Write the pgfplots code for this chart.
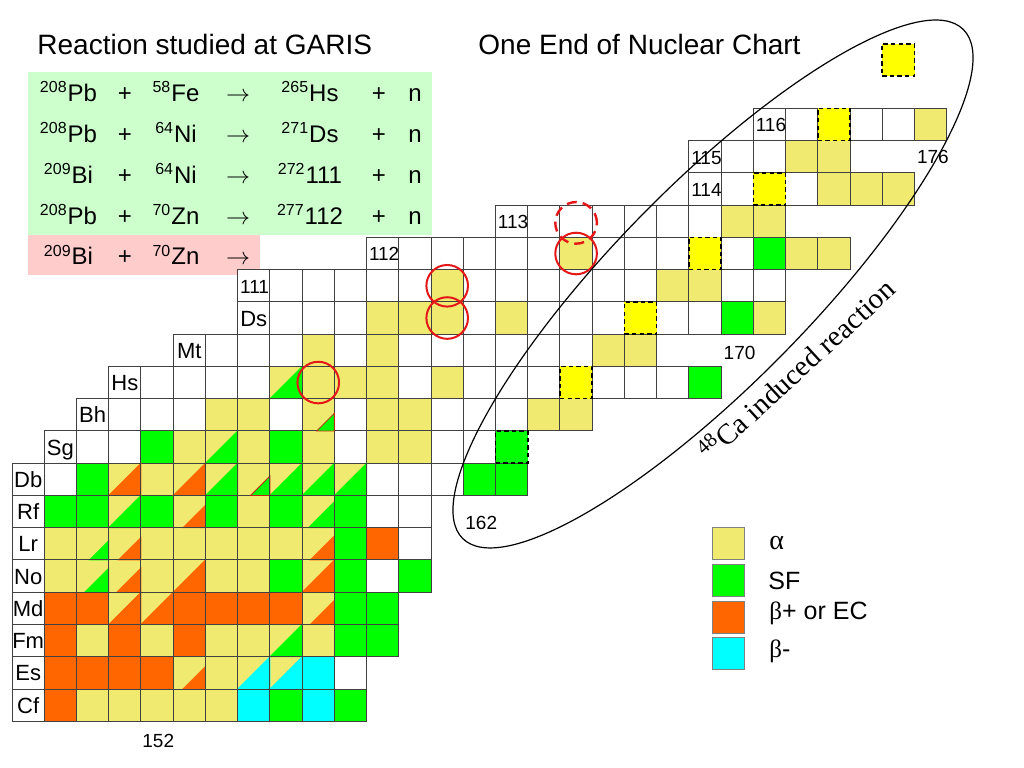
\documentclass[border=0pt]{standalone}
\usepackage{fontspec}
\setmainfont{Liberation Sans}
\newfontfamily\serif{Liberation Serif}
\usepackage{pgfplots}
\usepackage{pgfplotstable}
\pgfplotsset{compat=1.18}

\definecolor{alphaY}{RGB}{241,234,112}
\definecolor{sfG}{RGB}{0,255,0}
\definecolor{ecO}{RGB}{255,102,0}
\definecolor{bmC}{RGB}{0,255,255}
\definecolor{newY}{RGB}{255,255,0}
\definecolor{gridc}{RGB}{65,65,65}
\definecolor{bgG}{RGB}{204,255,204}
\definecolor{bgP}{RGB}{255,204,204}
\definecolor{circR}{RGB}{228,24,24}
\definecolor{triR}{RGB}{190,40,20}

\pgfdeclareplotmark{lrtri}{%
  \pgfpathmoveto{\pgfqpoint{0pt}{0pt}}%
  \pgfpathlineto{\pgfqpoint{-\pgfplotmarksize}{0pt}}%
  \pgfpathlineto{\pgfqpoint{0pt}{\pgfplotmarksize}}%
  \pgfpathclose
  \pgfusepathqfillstroke}

\newcommand\iso[2]{\textsuperscript{#1}#2}
\newcommand\fs[1]{\fontsize{#1}{#1}\selectfont}

% white cells (including the cells that carry element / Z labels)
\pgfplotstableread{
N Z
148 98
148 99
148 100
148 101
148 102
148 103
148 104
148 105
149 106
150 107
151 108
153 109
155 110
155 111
159 112
163 113
169 114
169 115
171 116
158 99
159 102
160 103
159 104
160 104
149 105
159 105
160 105
161 105
150 106
151 106
158 106
161 106
162 106
151 107
152 107
153 107
156 107
158 107
161 107
162 107
163 107
152 108
153 108
154 108
155 108
160 108
162 108
163 108
164 108
166 108
167 108
168 108
154 109
155 109
156 109
158 109
160 109
161 109
162 109
163 109
164 109
165 109
156 110
157 110
158 110
162 110
164 110
165 110
166 110
168 110
169 110
156 111
157 111
158 111
159 111
160 111
162 111
163 111
164 111
165 111
166 111
167 111
170 111
171 111
160 112
161 112
162 112
163 112
164 112
166 112
167 112
168 112
170 112
164 113
165 113
166 113
167 113
168 113
169 113
170 114
172 114
170 115
171 115
172 116
174 116
175 116
}\Wcells

% alpha (full cells)
\pgfplotstableread{
N Z
150 98
151 98
152 98
153 98
154 98
154 99
150 100
152 100
154 100
155 100
157 100
149 102
152 102
154 102
155 102
149 103
152 103
153 103
154 103
155 103
156 103
155 104
152 105
153 106
155 106
157 106
159 106
160 106
154 107
155 107
159 107
160 107
164 107
165 107
157 108
158 108
159 108
161 108
157 109
159 109
166 109
167 109
159 110
160 110
161 110
163 110
171 110
161 111
168 111
169 111
165 112
172 112
173 112
170 113
171 113
173 114
174 114
175 114
172 115
173 115
176 116
}\Ycells

% SF (full cells)
\pgfplotstableread{
N Z
156 98
158 98
158 100
159 100
158 101
159 101
156 102
158 102
160 102
158 103
149 104
150 104
152 104
154 104
156 104
158 104
150 105
162 105
163 105
152 106
156 106
169 108
170 110
171 112
}\Gcells

% beta+ / EC (full cells)
\pgfplotstableread{
N Z
149 98
149 99
150 99
151 99
152 99
149 100
151 100
153 100
149 101
150 101
153 101
154 101
155 101
156 101
159 103
}\Ocells

% beta- (full cells)
\pgfplotstableread{
N Z
155 98
157 98
157 99
}\Ccells

% new alpha emitters (dashed) and new SF (dashed)
\pgfplotstableread{
N Z
165 108
167 110
169 112
171 114
173 116
175 118
}\DYcells
\pgfplotstableread{
N Z
163 106
}\DGcells

% alpha cells with a second branch (lower right triangle, f = leg / side)
\pgfplotstableread{
N Z f
151 105 1
153 105 1
153 104 0.7
151 103 0.7
157 103 0.75
151 102 0.75
153 102 1
157 102 1
151 101 1
152 101 1
157 101 0.75
153 99 0.7
}\Otri
\pgfplotstableread{
N Z f
156 108 1
154 106 1
154 105 1
156 105 1
157 105 1
158 105 1
151 104 1
157 104 0.8
150 103 0.6
150 102 0.75
156 100 1
}\Gtri
\pgfplotstableread{
N Z f
157 107 0.55
155 105 0.6
}\Rtri
\pgfplotstableread{
N Z f
155 99 1
156 99 1
}\Ctri

\pgfplotsset{
  cell/.style={only marks, mark=square*, mark size=8.06pt,
    mark options={solid, line width=0.5pt, draw=gridc, fill=#1}},
  edge/.style={only marks, mark=square, mark size=8.06pt,
    mark options={solid, line width=0.5pt, draw=gridc}},
  tri/.style={scatter, only marks, mark=lrtri,
    scatter/use mapped color={draw=#1, fill=#1},
    visualization depends on={16.12*\thisrow{f} \as \tsz},
    scatter/@pre marker code/.append style={/tikz/mark size=\tsz pt, /tikz/line width=0.1pt}},
}

\begin{document}
\begin{tikzpicture}
\begin{axis}[
  scale only axis, width=512pt, height=384pt,
  xmin=147.6255, xmax=179.397, ymin=96.5524, ymax=120.359,
  hide axis, clip=false,
]
\path (rel axis cs:0,0) rectangle (rel axis cs:1,1);
\coordinate (O) at (rel axis cs:0,0);
% reaction table backgrounds
\fill[bgG] (axis cs:148.504,113.074) rectangle (axis cs:161.020,118.118);
\fill[bgP] (axis cs:148.504,111.835) rectangle (axis cs:155.693,113.074);

\addplot[cell=white] table[x expr=\thisrow{N}+0.5, y expr=\thisrow{Z}+0.5] {\Wcells};
\addplot[cell=alphaY] table[x expr=\thisrow{N}+0.5, y expr=\thisrow{Z}+0.5] {\Ycells};
\addplot[cell=alphaY] table[x expr=\thisrow{N}+0.5, y expr=\thisrow{Z}+0.5] {\Otri};
\addplot[cell=alphaY] table[x expr=\thisrow{N}+0.5, y expr=\thisrow{Z}+0.5] {\Gtri};
\addplot[cell=alphaY] table[x expr=\thisrow{N}+0.5, y expr=\thisrow{Z}+0.5] {\Rtri};
\addplot[cell=alphaY] table[x expr=\thisrow{N}+0.5, y expr=\thisrow{Z}+0.5] {\Ctri};
\addplot[cell=sfG] table[x expr=\thisrow{N}+0.5, y expr=\thisrow{Z}+0.5] {\Gcells};
\addplot[cell=ecO] table[x expr=\thisrow{N}+0.5, y expr=\thisrow{Z}+0.5] {\Ocells};
\addplot[cell=bmC] table[x expr=\thisrow{N}+0.5, y expr=\thisrow{Z}+0.5] {\Ccells};

\addplot[tri=ecO] table[x expr=\thisrow{N}+1, y=Z] {\Otri};
\addplot[tri=sfG] table[x expr=\thisrow{N}+1, y=Z] {\Gtri};
\addplot[tri=bmC] table[x expr=\thisrow{N}+1, y=Z] {\Ctri};
\addplot[scatter, only marks, mark=lrtri,
    scatter/use mapped color={draw=triR, fill=sfG},
    visualization depends on={16.12*\thisrow{f} \as \tsz},
    scatter/@pre marker code/.append style={/tikz/mark size=\tsz pt, /tikz/line width=0.7pt}]
    table[x expr=\thisrow{N}+1, y=Z] {\Rtri};

\addplot[edge] table[x expr=\thisrow{N}+0.5, y expr=\thisrow{Z}+0.5] {\Otri};
\addplot[edge] table[x expr=\thisrow{N}+0.5, y expr=\thisrow{Z}+0.5] {\Gtri};
\addplot[edge] table[x expr=\thisrow{N}+0.5, y expr=\thisrow{Z}+0.5] {\Ctri};

\addplot[only marks, mark=square*, mark size=8.06pt,
   mark options={line width=0.8pt, draw=black, fill=newY, dash pattern=on 2.2pt off 1.6pt}]
   table[x expr=\thisrow{N}+0.5, y expr=\thisrow{Z}+0.5] {\DYcells};
\addplot[only marks, mark=square*, mark size=8.06pt,
   mark options={line width=0.8pt, draw=black, fill=sfG, dash pattern=on 2.2pt off 1.6pt}]
   table[x expr=\thisrow{N}+0.5, y expr=\thisrow{Z}+0.5] {\DGcells};

% circles: isotopes produced at GARIS
\addplot[only marks, mark=o, mark size=10.4pt, mark options={solid, draw=circR, line width=1pt}]
  coordinates {(157.5,108.5) (161.5,111.5) (161.5,110.5) (165.5,112.5)};
\addplot[only marks, mark=o, mark size=10.4pt, mark options={draw=circR, line width=1.2pt, dash pattern=on 5pt off 3pt}]
  coordinates {(165.5,113.45)};
\end{axis}

\begin{scope}[shift={(O)}, x=0.5pt, y=0.5pt]
% element labels
\begin{scope}[every node/.style={anchor=base, inner sep=0pt, font=\fs{11}}]
\node at (28.19,54.77) {Cf};
\node at (28.19,87.03) {Es};
\node at (28.19,119.29) {Fm};
\node at (28.19,151.55) {Md};
\node at (28.19,183.81) {No};
\node at (28.19,216.07) {Lr};
\node at (28.19,248.33) {Rf};
\node at (28.19,280.59) {Db};
\node at (60.42,312.85) {Sg};
\node at (92.65,345.11) {Bh};
\node at (124.88,377.37) {Hs};
\node at (189.34,409.63) {Mt};
\node at (253.8,441.89) {Ds};
\end{scope}
\begin{scope}[every node/.style={anchor=base west, inner sep=0pt, font=\fs{9.5}}]
\node at (239.7,474.8) {111};
\node at (368.6,507.05) {112};
\node at (497.5,539.3) {113};
\node at (690.9,571.6) {114};
\node at (690.9,603.8) {115};
\node at (755.4,636.1) {116};
\node at (142,20) {152};
\node at (465,238) {162};
\node at (723.3,408) {170};
\node at (916.7,604.7) {176};
\end{scope}
% titles
\node[anchor=base west, inner sep=0pt, font=\fs{14}] at (37,713) {Reaction studied at GARIS};
\node[anchor=base west, inner sep=0pt, font=\fs{14}] at (478,713) {One End of Nuclear Chart};
% reactions
\begin{scope}[every node/.style={anchor=base, inner sep=0pt, font=\fs{12}}]
\node at (68.5,666.3) {\iso{208}{Pb}}; \node at (125,666.3) {+}; \node at (176,666.3) {\iso{58}{Fe}};
\node at (238,666.3) {\fs{11.5}$\rightarrow$}; \node at (310,666.3) {\iso{265}{Hs}}; \node at (379,666.3) {+}; \node at (415,666.3) {n};
\node at (68.5,625.5) {\iso{208}{Pb}}; \node at (125,625.5) {+}; \node at (176,625.5) {\iso{64}{Ni}};
\node at (238,625.5) {\fs{11.5}$\rightarrow$}; \node at (310,625.5) {\iso{271}{Ds}}; \node at (379,625.5) {+}; \node at (415,625.5) {n};
\node at (68.5,584.7) {\iso{209}{Bi}}; \node at (125,584.7) {+}; \node at (176,584.7) {\iso{64}{Ni}};
\node at (238,584.7) {\fs{11.5}$\rightarrow$}; \node at (310,584.7) {\iso{272}{111}}; \node at (379,584.7) {+}; \node at (415,584.7) {n};
\node at (68.5,543.9) {\iso{208}{Pb}}; \node at (125,543.9) {+}; \node at (176,543.9) {\iso{70}{Zn}};
\node at (238,543.9) {\fs{11.5}$\rightarrow$}; \node at (310,543.9) {\iso{277}{112}}; \node at (379,543.9) {+}; \node at (415,543.9) {n};
\node at (68.5,503.1) {\iso{209}{Bi}}; \node at (125,503.1) {+}; \node at (176,503.1) {\iso{70}{Zn}};
\node at (238,503.1) {\fs{11.5}$\rightarrow$};
\end{scope}
% 48Ca ellipse
\draw[line width=0.6pt, rotate around={45.5:(713,484)}] (713,484) ellipse [x radius=178.5pt, y radius=49.5pt];
\node[rotate=42.5, inner sep=0pt, font=\serif\fs{14.5}] at (796,399) {\textsuperscript{48}Ca induced reaction};
% legend
\filldraw[fill=alphaY, draw=gray, line width=0.4pt] (712,240.5) rectangle (744,208.5);
\filldraw[fill=sfG, draw=gray, line width=0.4pt] (712,203.5) rectangle (744,171.5);
\filldraw[fill=ecO, draw=gray, line width=0.4pt] (712,166.5) rectangle (744,134.5);
\filldraw[fill=bmC, draw=gray, line width=0.4pt] (712,130.5) rectangle (744,98.5);
\begin{scope}[every node/.style={anchor=west, inner sep=0pt, font=\fs{12.5}}]
\node at (769,224.7) {{\serif\fs{14}α}};
\node at (768,187) {SF};
\node at (769,154.7) {{\serif β}+ or EC};
\node at (769,116.3) {{\serif β}-};
\end{scope}
\end{scope}
\end{tikzpicture}
\end{document}
